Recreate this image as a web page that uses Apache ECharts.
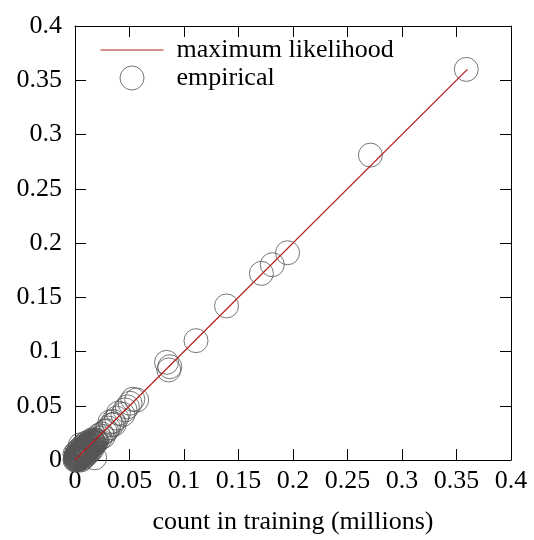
<!DOCTYPE html>
<html>
<head>
<meta charset="utf-8">
<script src="https://cdn.jsdelivr.net/npm/echarts@6/dist/echarts.min.js"></script>
<style>
  html, body { margin: 0; padding: 0; background: #fff; }
  #chart { width: 534px; height: 540px; }
</style>
</head>
<body>
<div id="chart"></div>
<script>
// axis ticks (millions)
var axisMin = 0;
var axisMax = 0.4;
var axisStep = 0.05;

// maximum likelihood line end points: [count in training, empirical]
var mlLine = [[0, 0], [0.36, 0.36]];

// empirical points, large counts
var empiricalLarge = [
  [0.359, 0.360], [0.271, 0.281], [0.195, 0.191], [0.181, 0.180],
  [0.171, 0.172], [0.139, 0.142], [0.111, 0.110], [0.084, 0.090],
  [0.086, 0.083], [0.087, 0.086]
];

// empirical points, middle cluster
var empiricalMid = [
  [0.0566, 0.0553], [0.0530, 0.0560], [0.0505, 0.0523], [0.0480, 0.0490],
  [0.0459, 0.0462], [0.0440, 0.0420], [0.0398, 0.0431], [0.0382, 0.0385],
  [0.0360, 0.0330], [0.0352, 0.0355], [0.0336, 0.0324], [0.0320, 0.0350],
  [0.0306, 0.0294], [0.0290, 0.0270], [0.0275, 0.0263], [0.0260, 0.0217],
  [0.0245, 0.0240], [0.0230, 0.0200], [0.0215, 0.0225], [0.0200, 0.0180],
  [0.0050, 0.0140], [0.0180, 0.0020]
];

// empirical points, dense region near the origin
var empiricalSmall = [
  [0.0000, 0.0000], [0.0003, 0.0010], [0.0008, 0.0002], [0.0010, 0.0015],
  [0.0015, 0.0008], [0.0018, 0.0024], [0.0022, 0.0012], [0.0025, 0.0030],
  [0.0030, 0.0021], [0.0033, 0.0038], [0.0036, 0.0027], [0.0040, 0.0045],
  [0.0043, 0.0033], [0.0047, 0.0052], [0.0050, 0.0041], [0.0054, 0.0060],
  [0.0057, 0.0048], [0.0061, 0.0066], [0.0064, 0.0055], [0.0068, 0.0073],
  [0.0071, 0.0062], [0.0075, 0.0080], [0.0078, 0.0069], [0.0082, 0.0088],
  [0.0086, 0.0077], [0.0090, 0.0095], [0.0094, 0.0084], [0.0098, 0.0102],
  [0.0102, 0.0092], [0.0106, 0.0110], [0.0110, 0.0100], [0.0115, 0.0118],
  [0.0119, 0.0108], [0.0124, 0.0127], [0.0128, 0.0116], [0.0133, 0.0135],
  [0.0138, 0.0126], [0.0143, 0.0146], [0.0149, 0.0137], [0.0155, 0.0157],
  [0.0161, 0.0150], [0.0168, 0.0170], [0.0175, 0.0163], [0.0183, 0.0185],
  [0.0191, 0.0178], [0.0012, 0.0040], [0.0040, 0.0010], [0.0030, 0.0060],
  [0.0065, 0.0030], [0.0055, 0.0090], [0.0095, 0.0060], [0.0085, 0.0120],
  [0.0120, 0.0085],
  [0.0030, 0.0000], [0.0045, 0.0015], [0.0060, 0.0030], [0.0075, 0.0045],
  [0.0090, 0.0060], [0.0105, 0.0075], [0.0120, 0.0090], [0.0135, 0.0105],
  [0.0150, 0.0120], [0.0165, 0.0135], [0.0180, 0.0150], [0.0195, 0.0165],
  [0.0007, 0.0037], [0.0022, 0.0052], [0.0037, 0.0067], [0.0052, 0.0082],
  [0.0067, 0.0097], [0.0082, 0.0112], [0.0097, 0.0127], [0.0112, 0.0142],
  [0.0127, 0.0157], [0.0142, 0.0172], [0.0157, 0.0187],
  [0.0055, 0.0000], [0.0072, 0.0017], [0.0089, 0.0034], [0.0106, 0.0051],
  [0.0123, 0.0068], [0.0140, 0.0085], [0.0157, 0.0102],
  [0.0000, 0.0055], [0.0017, 0.0072], [0.0034, 0.0089], [0.0051, 0.0106],
  [0.0068, 0.0123], [0.0085, 0.0140], [0.0102, 0.0157],
  [0.0023, 0.0008], [0.0053, 0.0038], [0.0083, 0.0068], [0.0113, 0.0098],
  [0.0143, 0.0128], [0.0173, 0.0158],
  [0.0008, 0.0023], [0.0038, 0.0053], [0.0068, 0.0083], [0.0098, 0.0113],
  [0.0128, 0.0143], [0.0158, 0.0173]
];

var empirical = empiricalLarge.concat(empiricalMid, empiricalSmall);

var serif = '"Liberation Serif", "DejaVu Serif", serif';
var fontSize = 26;
var lineColor = '#b51f1f';

function fmt(v) {
  return String(+v.toFixed(2));
}

function makeAxis(pos, showLabels, name) {
  return {
    type: 'value',
    position: pos,
    min: axisMin,
    max: axisMax,
    interval: axisStep,
    name: name || '',
    nameLocation: 'middle',
    nameGap: 49,
    nameTextStyle: { fontFamily: serif, fontSize: fontSize, color: '#000' },
    axisLine: { show: true, onZero: false, lineStyle: { color: '#000', width: 1 } },
    axisTick: { show: true, inside: true, length: 11, lineStyle: { color: '#000', width: 1 } },
    splitLine: { show: false },
    axisLabel: {
      show: showLabels,
      fontFamily: serif,
      fontSize: fontSize,
      color: '#000',
      margin: pos === 'left' ? 13 : 8,
      formatter: function (v) { return fmt(v); }
    }
  };
}

var chart = echarts.init(document.getElementById('chart'));
chart.setOption({
  animation: false,
  backgroundColor: '#fff',
  grid: { left: 75, top: 26, width: 436, height: 436, containLabel: false },
  legend: {
    orient: 'vertical',
    left: 100,
    top: 37,
    padding: 0,
    itemWidth: 63,
    itemHeight: 24,
    itemGap: 2,
    textStyle: { fontFamily: serif, fontSize: fontSize, color: '#000', padding: [0, 0, 0, 8] },
    data: [
      { name: 'maximum likelihood',
        itemStyle: { color: 'transparent', borderColor: 'transparent', borderWidth: 0 },
        lineStyle: { color: lineColor, width: 1 } },
      { name: 'empirical', icon: 'circle',
        itemStyle: { color: 'transparent', borderColor: '#555', borderWidth: 1 } }
    ]
  },
  xAxis: [makeAxis('bottom', true, 'count in training (millions)'), makeAxis('top', false)],
  yAxis: [makeAxis('left', true), makeAxis('right', false)],
  series: [
    {
      name: 'empirical',
      type: 'scatter',
      clip: false,
      symbol: 'circle',
      symbolSize: 24,
      itemStyle: { color: 'transparent', borderColor: '#555', borderWidth: 1 },
      data: empirical
    },
    {
      name: 'maximum likelihood',
      type: 'line',
      z: 5,
      symbol: 'none',
      lineStyle: { color: lineColor, width: 1.3 },
      itemStyle: { color: lineColor },
      data: mlLine
    }
  ]
});
</script>
</body>
</html>
